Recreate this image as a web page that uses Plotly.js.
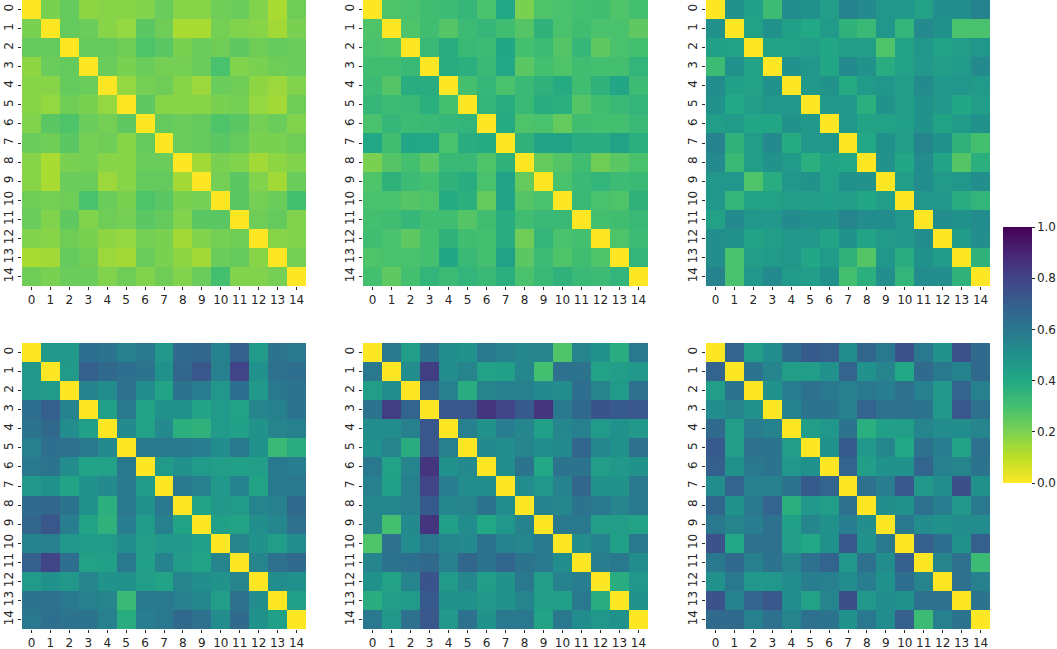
<!DOCTYPE html>
<html>
<head>
<meta charset="utf-8">
<script src="https://cdn.plot.ly/plotly-3.0.1.min.js"></script>
<style>html,body{margin:0;padding:0;background:#fff;}#chart{width:1057px;height:649px;}</style>
</head>
<body>
<div id="chart"></div>
<script>
const labels = ["0","1","2","3","4","5","6","7","8","9","10","11","12","13","14"];
const idx = [0,1,2,3,4,5,6,7,8,9,10,11,12,13,14];

const matA = [
[0,.20,.24,.17,.18,.18,.19,.23,.18,.18,.22,.23,.19,.13,.22],
[.20,0,.24,.23,.18,.16,.26,.22,.13,.13,.21,.19,.18,.14,.20],
[.24,.24,0,.24,.24,.22,.28,.26,.20,.23,.22,.25,.22,.24,.23],
[.17,.23,.24,0,.23,.20,.23,.21,.21,.23,.29,.19,.20,.22,.23],
[.18,.18,.24,.23,0,.16,.21,.22,.18,.15,.23,.22,.17,.15,.19],
[.18,.16,.22,.20,.16,0,.25,.18,.18,.18,.20,.21,.16,.14,.22],
[.19,.26,.28,.23,.21,.25,0,.24,.23,.24,.28,.26,.21,.23,.19],
[.23,.22,.26,.21,.22,.18,.24,0,.23,.24,.26,.24,.20,.20,.22],
[.18,.13,.20,.21,.18,.18,.23,.23,0,.14,.20,.19,.14,.17,.19],
[.18,.13,.23,.23,.15,.18,.24,.24,.14,0,.21,.26,.19,.14,.23],
[.22,.21,.22,.29,.23,.20,.28,.26,.20,.21,0,.26,.21,.23,.30],
[.23,.19,.25,.19,.22,.21,.26,.24,.19,.26,.26,0,.22,.24,.19],
[.19,.18,.22,.20,.17,.16,.21,.20,.14,.19,.21,.22,0,.18,.19],
[.13,.14,.24,.22,.15,.14,.23,.20,.17,.14,.23,.24,.18,0,.21],
[.22,.20,.23,.23,.19,.22,.19,.22,.19,.23,.30,.19,.19,.21,0]
];

const matB = [
[0,.28,.29,.31,.32,.34,.29,.40,.20,.28,.29,.30,.31,.28,.30],
[.28,0,.28,.31,.27,.32,.34,.31,.27,.36,.29,.31,.29,.29,.25],
[.29,.28,0,.33,.38,.33,.32,.41,.30,.32,.27,.34,.25,.29,.30],
[.31,.31,.33,0,.38,.37,.33,.40,.26,.30,.28,.31,.30,.30,.35],
[.32,.27,.38,.38,0,.30,.34,.29,.33,.36,.39,.31,.36,.41,.32],
[.34,.32,.33,.37,.30,0,.35,.38,.33,.38,.37,.27,.31,.33,.35],
[.29,.34,.32,.33,.34,.35,0,.39,.28,.29,.24,.31,.30,.30,.33],
[.40,.31,.41,.40,.29,.38,.39,0,.36,.42,.42,.38,.38,.43,.37],
[.20,.27,.30,.26,.33,.33,.28,.36,0,.24,.27,.31,.22,.26,.29],
[.28,.36,.32,.30,.36,.38,.29,.42,.24,0,.29,.33,.35,.32,.33],
[.29,.29,.27,.28,.39,.37,.24,.42,.27,.29,0,.33,.29,.28,.36],
[.30,.31,.34,.31,.31,.27,.31,.38,.31,.33,.33,0,.30,.31,.33],
[.31,.29,.25,.30,.36,.31,.30,.38,.22,.35,.29,.30,0,.28,.32],
[.28,.29,.29,.30,.41,.33,.30,.43,.26,.32,.28,.31,.28,0,.35],
[.30,.25,.30,.35,.32,.35,.33,.37,.29,.33,.36,.33,.32,.35,0]
];

const matC = [
[0,.50,.44,.32,.52,.50,.45,.56,.53,.48,.48,.43,.51,.51,.56],
[.50,0,.43,.50,.44,.40,.46,.36,.33,.48,.35,.53,.50,.29,.29],
[.44,.43,0,.42,.43,.45,.41,.45,.45,.28,.43,.48,.42,.45,.48],
[.32,.50,.42,0,.50,.48,.41,.53,.49,.38,.43,.47,.45,.46,.53],
[.52,.44,.43,.50,0,.47,.49,.39,.46,.48,.45,.53,.47,.48,.46],
[.50,.40,.45,.48,.47,0,.47,.47,.37,.49,.45,.50,.47,.41,.45],
[.45,.46,.41,.41,.49,.47,0,.48,.42,.43,.44,.49,.42,.46,.50],
[.56,.36,.45,.53,.39,.47,.48,0,.40,.50,.45,.55,.50,.36,.30],
[.53,.33,.45,.49,.46,.37,.42,.40,0,.49,.41,.52,.42,.27,.37],
[.48,.48,.28,.38,.48,.49,.43,.50,.49,0,.45,.52,.46,.48,.51],
[.48,.35,.43,.43,.45,.45,.44,.45,.41,.45,0,.48,.47,.38,.35],
[.43,.53,.48,.47,.53,.50,.49,.55,.52,.52,.48,0,.52,.50,.52],
[.51,.50,.42,.45,.47,.47,.42,.50,.42,.46,.47,.52,0,.46,.51],
[.51,.29,.45,.46,.48,.41,.46,.36,.27,.48,.38,.50,.46,0,.36],
[.56,.29,.48,.53,.46,.45,.50,.30,.37,.51,.35,.52,.51,.36,0]
];

const matD = [
[0,.47,.47,.64,.62,.57,.60,.47,.65,.67,.56,.70,.46,.62,.60],
[.47,0,.46,.70,.66,.64,.62,.50,.67,.73,.57,.80,.50,.63,.64],
[.47,.46,0,.56,.52,.63,.52,.42,.62,.58,.48,.64,.47,.60,.62],
[.64,.70,.56,0,.44,.60,.42,.50,.50,.42,.46,.43,.55,.57,.62],
[.62,.66,.52,.44,0,.53,.43,.53,.37,.36,.46,.44,.49,.55,.57],
[.57,.64,.63,.60,.53,0,.60,.60,.60,.58,.52,.60,.50,.33,.38],
[.60,.62,.52,.42,.43,.60,0,.46,.50,.46,.45,.44,.45,.60,.58],
[.47,.50,.42,.50,.53,.60,.46,0,.60,.57,.47,.56,.42,.60,.60],
[.65,.67,.62,.50,.37,.60,.50,.60,0,.42,.47,.46,.55,.57,.66],
[.67,.73,.58,.42,.36,.58,.46,.57,.42,0,.44,.42,.51,.54,.63],
[.56,.57,.48,.46,.46,.52,.45,.47,.47,.44,0,.55,.49,.45,.52],
[.70,.80,.64,.43,.44,.60,.44,.56,.46,.42,.55,0,.55,.63,.65],
[.46,.50,.47,.55,.49,.50,.45,.42,.55,.51,.49,.55,0,.52,.50],
[.62,.63,.60,.57,.55,.33,.60,.60,.57,.54,.45,.63,.52,0,.44],
[.60,.64,.62,.62,.57,.38,.58,.60,.66,.63,.52,.65,.50,.44,0]
];

const matE = [
[0,.60,.45,.62,.52,.50,.60,.57,.54,.55,.28,.55,.50,.38,.60],
[.60,0,.52,.82,.52,.55,.43,.44,.54,.30,.63,.62,.43,.45,.47],
[.45,.52,0,.68,.57,.38,.55,.57,.57,.53,.52,.64,.55,.46,.63],
[.62,.82,.68,0,.73,.73,.85,.80,.72,.85,.60,.66,.74,.72,.73],
[.52,.52,.57,.73,0,.57,.50,.58,.54,.44,.54,.57,.46,.50,.47],
[.50,.55,.38,.73,.57,0,.53,.52,.55,.52,.53,.67,.54,.50,.63],
[.60,.43,.55,.85,.50,.53,0,.52,.62,.40,.62,.62,.45,.47,.49],
[.57,.44,.57,.80,.58,.52,.52,0,.52,.48,.56,.67,.49,.49,.60],
[.54,.54,.57,.72,.54,.55,.62,.52,0,.56,.54,.62,.60,.55,.60],
[.55,.30,.53,.85,.44,.52,.40,.48,.56,0,.60,.60,.45,.45,.42],
[.28,.63,.52,.60,.54,.53,.62,.56,.54,.60,0,.52,.56,.44,.60],
[.55,.62,.64,.66,.57,.67,.62,.67,.62,.60,.52,0,.58,.60,.52],
[.50,.43,.55,.74,.46,.54,.45,.49,.60,.45,.56,.58,0,.38,.48],
[.38,.45,.46,.72,.50,.50,.47,.49,.55,.45,.44,.60,.38,0,.50],
[.60,.47,.63,.73,.47,.63,.49,.60,.60,.42,.60,.52,.48,.50,0]
];

const matF = [
[0,.68,.45,.52,.65,.72,.70,.52,.67,.60,.75,.60,.50,.75,.65],
[.68,0,.62,.55,.45,.45,.50,.68,.50,.55,.40,.65,.60,.56,.66],
[.45,.62,0,.50,.58,.63,.60,.57,.60,.58,.63,.57,.47,.68,.57],
[.52,.55,.50,0,.56,.62,.62,.57,.68,.63,.63,.62,.48,.73,.63],
[.65,.45,.58,.56,0,.45,.48,.62,.37,.44,.45,.55,.52,.52,.55],
[.72,.45,.63,.62,.45,0,.50,.72,.47,.54,.40,.63,.58,.43,.63],
[.70,.50,.60,.62,.48,.50,0,.68,.45,.50,.50,.68,.57,.55,.62],
[.52,.68,.57,.57,.62,.72,.68,0,.63,.58,.73,.47,.52,.76,.50],
[.67,.50,.60,.68,.37,.47,.45,.63,0,.51,.50,.63,.58,.47,.60],
[.60,.55,.58,.63,.44,.54,.50,.58,.51,0,.60,.52,.50,.52,.52],
[.75,.40,.63,.63,.45,.40,.50,.73,.50,.60,0,.70,.64,.50,.70],
[.60,.65,.57,.62,.55,.63,.68,.47,.63,.52,.70,0,.55,.63,.32],
[.50,.60,.47,.48,.52,.58,.57,.52,.58,.50,.64,.55,0,.63,.57],
[.75,.56,.68,.73,.52,.43,.55,.76,.47,.52,.50,.63,.63,0,.62],
[.65,.66,.57,.63,.55,.63,.62,.50,.60,.52,.70,.32,.57,.62,0]
];

const mats = [matA, matB, matC, matD, matE, matF];
const W = 1057, H = 649;
const xDom = [[22/W, 306/W], [363/W, 648/W], [706/W, 990/W]];
const yDom = [[1-286/H, 1], [1-629/H, 1-343/H]];

const viridisR = [
  [0.0, '#fde725'], [0.1, '#bddf26'], [0.2, '#7ad151'], [0.3, '#44bf70'],
  [0.4, '#22a884'], [0.5, '#21918c'], [0.6, '#2a788e'], [0.7, '#355f8d'],
  [0.8, '#414487'], [0.9, '#482475'], [1.0, '#440154']
];

const font = {family: 'DejaVu Sans, sans-serif', size: 12, color: '#262626'};
const traces = [];
const layout = {
  width: W, height: H,
  margin: {l: 0, r: 0, t: 0, b: 0},
  paper_bgcolor: '#ffffff', plot_bgcolor: '#ffffff',
  font: font,
  showlegend: false
};

mats.forEach((m, k) => {
  const n = k + 1;
  const xa = n === 1 ? 'x' : 'x' + n;
  const ya = n === 1 ? 'y' : 'y' + n;
  traces.push({
    type: 'heatmap', z: m, x: idx, y: idx,
    xaxis: xa, yaxis: ya,
    colorscale: viridisR, zmin: 0, zmax: 1,
    showscale: k === 0,
    colorbar: {
      x: 1003/W, xanchor: 'left', xpad: 0, ypad: 0,
      y: 1 - 355/H, yanchor: 'middle', len: 256/H, lenmode: 'fraction',
      thickness: 29, thicknessmode: 'pixels',
      outlinewidth: 0,
      tickvals: [0, 0.2, 0.4, 0.6, 0.8, 1.0],
      ticktext: ['0.0','0.2','0.4','0.6','0.8','1.0'],
      ticks: 'outside', ticklen: 3, tickcolor: '#262626',
      tickfont: font
    }
  });
  const col = k % 3, row = Math.floor(k / 3);
  const xk = n === 1 ? 'xaxis' : 'xaxis' + n;
  const yk = n === 1 ? 'yaxis' : 'yaxis' + n;
  layout[xk] = {
    domain: xDom[col], anchor: ya,
    range: [-0.5, 14.5],
    tickvals: idx, ticktext: labels, tickangle: 0,
    showgrid: false, zeroline: false, showline: false,
    ticks: 'outside', ticklen: 3, tickwidth: 1, tickcolor: '#262626',
    tickfont: font, fixedrange: true
  };
  layout[yk] = {
    domain: yDom[row], anchor: xa,
    range: [14.5, -0.5],
    tickvals: idx, ticktext: labels, tickangle: -90,
    showgrid: false, zeroline: false, showline: false,
    ticks: 'outside', ticklen: 3, tickwidth: 1, tickcolor: '#262626',
    tickfont: font, fixedrange: true
  };
});

Plotly.newPlot('chart', traces, layout, {displayModeBar: false, staticPlot: true});
</script>
</body>
</html>
